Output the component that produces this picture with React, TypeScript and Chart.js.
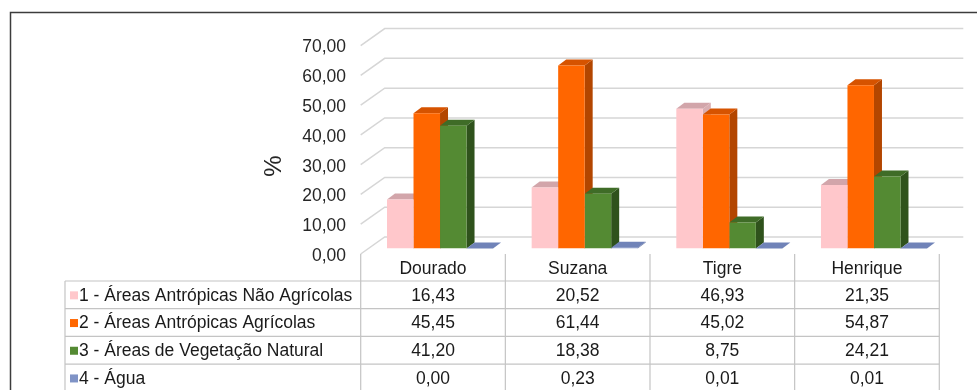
import React, { useEffect, useRef } from "react";
import { Chart, registerables } from "chart.js";

Chart.register(...registerables);

const categories = ["Dourado", "Suzana", "Tigre", "Henrique"];
const seriesNames = [
  "1 - Áreas Antrópicas Não Agrícolas",
  "2 - Áreas Antrópicas Agrícolas",
  "3 - Áreas de Vegetação Natural",
  "4 - Água",
];
const areasNaoAgricolas = [16.43, 20.52, 46.93, 21.35];
const areasAgricolas = [45.45, 61.44, 45.02, 54.87];
const vegetacaoNatural = [41.2, 18.38, 8.75, 24.21];
const agua = [0.0, 0.23, 0.01, 0.01];
const yTicks = [0, 10, 20, 30, 40, 50, 60, 70];
const axisTitle = "%";

const frontColors = ["#FFC7CB", "#FF6600", "#548A33", "#7F93C6"];
const topColors = ["#D2A5AA", "#D65300", "#3F6C27", "#7083B8"];
const sideColors = ["#D9AEB2", "#B34600", "#2F521C", "#5D6FA0"];

const FONT = '"Liberation Sans", Arial, sans-serif';
const DX = 8;
const DY = -6;
const fmt = (v: number) => v.toFixed(2).replace(".", ",");

const threeD = {
  id: "threeD",
  beforeDraw(chart: any) {
    const ctx = chart.ctx;
    ctx.save();
    ctx.fillStyle = "#ffffff";
    ctx.fillRect(0, 0, chart.width, chart.height);
    ctx.strokeStyle = "#3c3c3c";
    ctx.lineWidth = 1.5;
    ctx.beginPath();
    ctx.moveTo(10.5, chart.height);
    ctx.lineTo(10.5, 12.5);
    ctx.lineTo(chart.width, 12.5);
    ctx.stroke();
    ctx.restore();
  },
  beforeDatasetsDraw(chart: any) {
    const ctx = chart.ctx;
    const ys = chart.scales.y;
    const area = chart.chartArea;
    const backL = area.left + 17;
    const backR = area.right + 17;
    const frontL = area.left - 7;
    ctx.save();
    ctx.strokeStyle = "#D6D6D6";
    ctx.lineWidth = 1.5;
    ctx.font = `17.5px ${FONT}`;
    ctx.fillStyle = "#262626";
    ctx.textAlign = "right";
    ctx.textBaseline = "middle";
    yTicks.forEach((v) => {
      const yb = ys.getPixelForValue(v) - 11.5;
      ctx.beginPath();
      ctx.moveTo(frontL, yb + 17);
      ctx.lineTo(backL, yb);
      ctx.lineTo(backR, yb);
      ctx.stroke();
      ctx.fillText(fmt(v), 346, yb + 19);
    });
    ctx.save();
    ctx.translate(274, 166);
    ctx.rotate(-Math.PI / 2);
    ctx.textAlign = "center";
    ctx.font = `24px ${FONT}`;
    ctx.fillText(axisTitle, 0, 0);
    ctx.restore();
    const n = chart.data.labels.length;
    for (let i = 0; i < n; i++) {
      chart.data.datasets.forEach((_: any, d: number) => {
        const el = chart.getDatasetMeta(d).data[i];
        const { x, y, base, width } = el.getProps(["x", "y", "base", "width"], true);
        const l = x - width / 2;
        const r = x + width / 2;
        ctx.fillStyle = sideColors[d];
        ctx.beginPath();
        ctx.moveTo(r, y);
        ctx.lineTo(r + DX, y + DY);
        ctx.lineTo(r + DX, base + DY);
        ctx.lineTo(r, base);
        ctx.closePath();
        ctx.fill();
        ctx.fillStyle = topColors[d];
        ctx.beginPath();
        ctx.moveTo(l, y);
        ctx.lineTo(l + DX, y + DY);
        ctx.lineTo(r + DX, y + DY);
        ctx.lineTo(r, y);
        ctx.closePath();
        ctx.fill();
      });
    }
    ctx.restore();
  },
  afterDatasetsDraw(chart: any) {
    const ctx = chart.ctx;
    const xs = chart.scales.x;
    const area = chart.chartArea;
    const n = chart.data.labels.length;
    const colW = (area.right - area.left) / n;
    const shift = -7;
    const tableLeft = 65;
    const headTop = area.bottom + 5.5;
    const rowTop = area.bottom + 32.5;
    const rowH = 27.7;
    const bottom = chart.height;
    ctx.save();
    ctx.strokeStyle = "#C4C4C4";
    ctx.lineWidth = 1.2;
    for (let i = 0; i <= n; i++) {
      const xx = xs.getPixelForValue(0) - colW / 2 + i * colW + shift;
      ctx.beginPath();
      ctx.moveTo(xx, headTop);
      ctx.lineTo(xx, bottom);
      ctx.stroke();
    }
    ctx.beginPath();
    ctx.moveTo(tableLeft, rowTop);
    ctx.lineTo(tableLeft, bottom);
    ctx.stroke();
    const tableRight = xs.getPixelForValue(n - 1) + colW / 2 + shift;
    for (let k = 0; k <= 4; k++) {
      const yy = rowTop + k * rowH;
      ctx.beginPath();
      ctx.moveTo(tableLeft, yy);
      ctx.lineTo(tableRight, yy);
      ctx.stroke();
    }
    ctx.font = `17.5px ${FONT}`;
    ctx.fillStyle = "#1a1a1a";
    ctx.textBaseline = "middle";
    ctx.textAlign = "center";
    chart.data.labels.forEach((lab: string, i: number) => {
      const cx = xs.getPixelForValue(i) + shift;
      ctx.fillText(lab, cx, (headTop + rowTop) / 2 + 2);
    });
    chart.data.datasets.forEach((ds: any, d: number) => {
      const cy = rowTop + d * rowH + rowH / 2 + 1;
      ctx.fillStyle = frontColors[d];
      ctx.fillRect(70, cy - 4.5, 8, 8);
      ctx.fillStyle = "#1a1a1a";
      ctx.textAlign = "left";
      ctx.fillText(ds.label, 79, cy);
      ctx.textAlign = "center";
      ds.data.forEach((v: number, i: number) => {
        ctx.fillText(fmt(v), xs.getPixelForValue(i) + shift, cy);
      });
    });
    ctx.restore();
  },
};

export default function App() {
  const ref = useRef<HTMLCanvasElement | null>(null);
  useEffect(() => {
    if (!ref.current) return;
    const seriesValues = [areasNaoAgricolas, areasAgricolas, vegetacaoNatural, agua];
    const chart = new Chart(ref.current, {
      type: "bar",
      data: {
        labels: categories,
        datasets: seriesValues.map((vals, d) => ({
          label: seriesNames[d],
          data: vals,
          backgroundColor: frontColors[d],
          borderWidth: 0,
          categoryPercentage: 0.733,
          barPercentage: 1,
        })),
      },
      options: {
        responsive: false,
        animation: false,
        devicePixelRatio: 1,
        layout: { padding: { left: 367.7, right: 30.7, top: 40.1, bottom: 141.5 } },
        plugins: { legend: { display: false }, tooltip: { enabled: false }, title: { display: false } },
        scales: {
          x: { display: false },
          y: { display: false, min: 0, max: 70 },
        },
      },
      plugins: [threeD],
    });
    return () => chart.destroy();
  }, []);
  return (
    <div style={{ position: "absolute", left: 0, top: 0, width: 977, height: 390, background: "#fff" }}>
      <canvas ref={ref} width={977} height={390} style={{ display: "block" }} />
    </div>
  );
}
